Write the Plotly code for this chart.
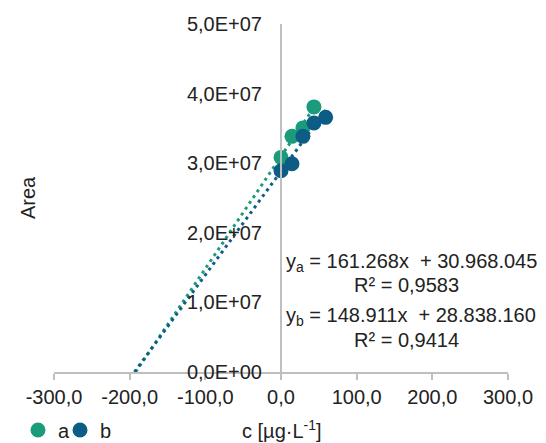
import plotly.graph_objects as go

# data
x_a = [0, 14.5, 29, 43.5]
y_a = [3.083e7, 3.386e7, 3.507e7, 3.809e7]
x_b = [0, 14.5, 29, 43.5, 59]
y_b = [2.892e7, 2.993e7, 3.386e7, 3.578e7, 3.659e7]

slope_a, icpt_a = 161268, 30968045
slope_b, icpt_b = 148911, 28838160

x_ticks = [-300, -200, -100, 0, 100, 200, 300]
x_tick_labels = ["-300,0", "-200,0", "-100,0", "0,0", "100,0", "200,0", "300,0"]
y_ticks = [0, 1e7, 2e7, 3e7, 4e7, 5e7]
y_tick_labels = ["0,0E+00", "1,0E+07", "2,0E+07", "3,0E+07", "4,0E+07", "5,0E+07"]

col_a = "#1a9c7b"
col_b = "#0d5c85"
FONT = "Liberation Sans, Arial, sans-serif"
FS = 20
W, H = 538, 435

def trend(slope, icpt, xmax):
    x0 = -icpt / slope
    return [x0, xmax], [slope * x0 + icpt, slope * xmax + icpt]

fig = go.Figure()
tx, ty = trend(slope_a, icpt_a, max(x_a))
fig.add_trace(go.Scatter(x=tx, y=ty, mode="lines", showlegend=False,
                         line=dict(color=col_a, width=3, dash="3px,4px"), hoverinfo="skip"))
tx, ty = trend(slope_b, icpt_b, max(x_b))
fig.add_trace(go.Scatter(x=tx, y=ty, mode="lines", showlegend=False,
                         line=dict(color=col_b, width=3, dash="3px,4px"), hoverinfo="skip"))
fig.add_trace(go.Scatter(x=x_a, y=y_a, mode="markers", name="a", legend="legend",
                         marker=dict(color=col_a, size=15)))
fig.add_trace(go.Scatter(x=x_b, y=y_b, mode="markers", name="b", legend="legend2",
                         marker=dict(color=col_b, size=15)))

leg_common = dict(orientation="h", xref="container", yref="container",
                  xanchor="left", yanchor="middle", y=1 - 422 / H,
                  font=dict(size=FS), itemwidth=30, bgcolor="rgba(0,0,0,0)")

def note(text, x, y):
    return dict(text=text, xref="x", yref="y", x=x, y=y, showarrow=False,
                xanchor="center", yanchor="middle", font=dict(size=FS))

fig.update_layout(
    width=W, height=H,
    margin=dict(l=46, r=38, t=16, b=71, autoexpand=False),
    paper_bgcolor="white", plot_bgcolor="white",
    font=dict(family=FONT, size=FS, color="#222222"),
    showlegend=True,
    legend=dict(x=10 / W, **leg_common),
    legend2=dict(x=52 / W, **leg_common),
    xaxis=dict(range=[-300, 300], tickvals=x_ticks, ticktext=x_tick_labels,
               showgrid=False, zeroline=False, showline=True, linecolor="#bfbfbf",
               linewidth=2, ticks="outside", ticklen=6, tickwidth=2, tickcolor="#bfbfbf",
               tickfont=dict(size=FS)),
    yaxis=dict(range=[0, 5e7], tickvals=y_ticks, ticktext=y_tick_labels,
               showgrid=False, zeroline=False, showline=True, linecolor="#bfbfbf",
               linewidth=2, ticks="", anchor="free", position=0.5,
               ticklabelstandoff=14, tickfont=dict(size=FS)),
    annotations=[
        dict(text="Area", textangle=-90, xref="paper", yref="paper", x=-0.057, y=0.5,
             xanchor="center", yanchor="middle", showarrow=False, font=dict(size=FS)),
        dict(text="c [µg·L<sup>-1</sup>]", xref="paper", yref="paper", x=0.502, y=-0.166,
             xanchor="center", yanchor="middle", showarrow=False, font=dict(size=FS)),
        note("y<sub>a</sub> = 161.268x  + 30.968.045", 172, 1.568e7),
        note("R² = 0,9583", 166, 1.252e7),
        note("y<sub>b</sub> = 148.911x  + 28.838.160", 172, 0.791e7),
        note("R² = 0,9414", 166, 0.46e7),
    ],
)

fig.write_html("out.html")
